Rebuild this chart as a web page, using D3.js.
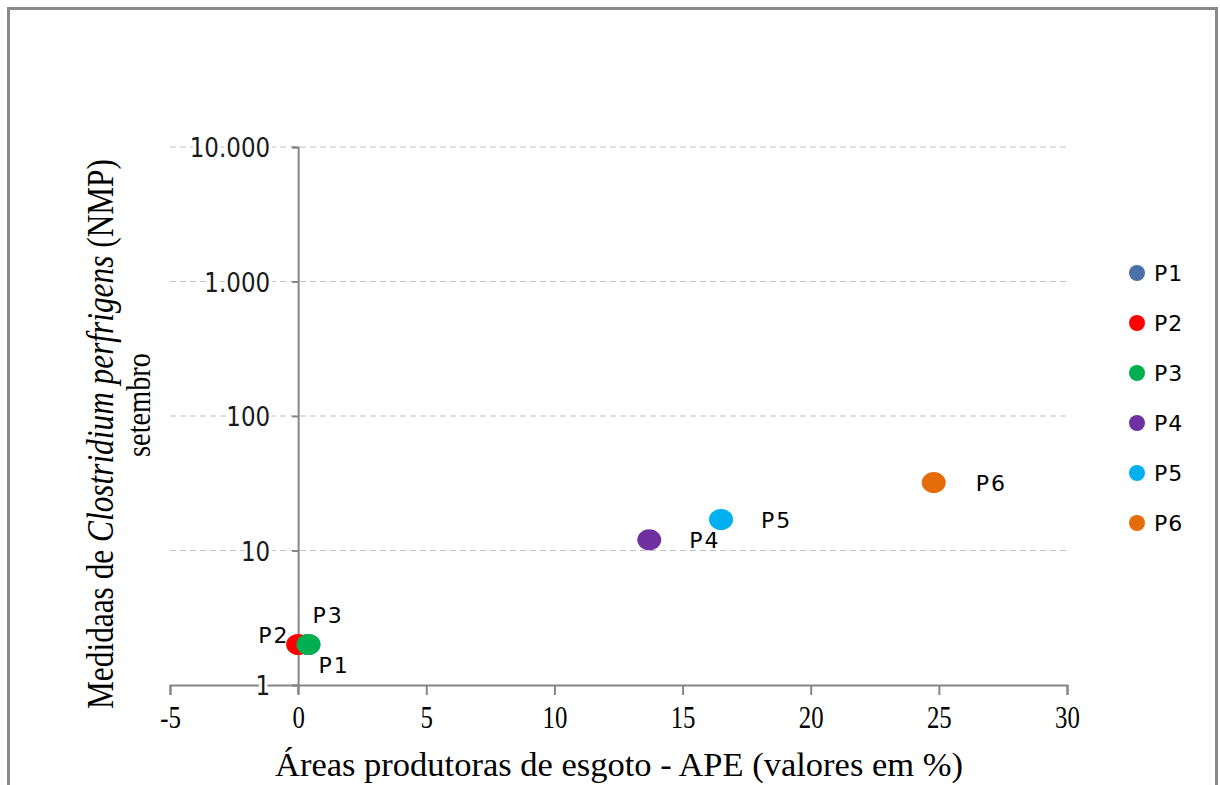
<!DOCTYPE html>
<html><head><meta charset="utf-8">
<script src="https://cdn.jsdelivr.net/npm/d3@7"></script>
<style>body{margin:0;background:#fff}svg{display:block}</style>
</head><body>
<svg id="c" width="1220" height="785"></svg>
<script>
const names = ["P1","P2","P3","P4","P5","P6"];
const xVals = [0.4, 0, 0.4, 13.7, 16.5, 24.8];
const yVals = [2, 2, 2, 12, 17, 32];
const colors = ["#4A72A8","#FF0000","#00B050","#7030A0","#00B0F0","#E46C0A"];
const xTicks = [-5,0,5,10,15,20,25,30];
const yTicks = [1,10,100,1000,10000];
const yTickLabels = ["1","10","100","1.000","10.000"];
// label offsets (dx, dy) relative to point centre
const labelPos = [[10,28],[-40,-2],[4,-22],[40,8],[40,8],[42,8]];

const svg = d3.select("#c");
svg.append("rect").attr("x",8.5).attr("y",8.5).attr("width",1208).attr("height",800)
  .attr("fill","#fff").attr("stroke","#8a8a8a").attr("stroke-width",3);

const x = d3.scaleLinear().domain([-5,30]).range([170,1067]);
const y = d3.scaleLog().domain([1,10000]).range([685,147]);

// gridlines
svg.append("g").selectAll("line").data(yTicks.filter(d=>d>1)).join("line")
  .attr("x1",x(-5)).attr("x2",x(30)).attr("y1",d=>y(d)).attr("y2",d=>y(d))
  .attr("stroke","#BFBFBF").attr("stroke-width",1).attr("stroke-dasharray","6,4");

// x axis at y=1
const xAxis = svg.append("g").attr("transform",`translate(0,${y(1)})`)
  .call(d3.axisBottom(x).tickValues(xTicks).tickSize(10).tickFormat(d=>d));
xAxis.select(".domain").attr("stroke","#868686").attr("stroke-width",2);
xAxis.selectAll(".tick line").attr("stroke","#868686").attr("stroke-width",2);
xAxis.selectAll(".tick text").attr("font-family","Liberation Serif").attr("font-size",31)
  .attr("fill","#000").attr("y",0).attr("dy","1.38em").attr("transform","scale(0.8,1)");

// y axis at x=0
const yAxis = svg.append("g").attr("transform",`translate(${x(0)},0)`)
  .call(d3.axisLeft(y).tickValues(yTicks).tickSize(6).tickFormat((d,i)=>yTickLabels[i]));
yAxis.select(".domain").attr("stroke","#868686").attr("stroke-width",2);
yAxis.selectAll(".tick line").attr("stroke","#868686").attr("stroke-width",2);
yAxis.selectAll(".tick text").attr("font-family","DejaVu Sans").attr("font-size",23)
  .attr("fill","#1a1a1a").attr("x",-28).attr("dy","0.36em").attr("transform","scale(1,1.15)")
  .attr("stroke","#fff").attr("stroke-width",6).attr("paint-order","stroke");
// extend y axis below x axis
svg.append("line").attr("x1",x(0)).attr("x2",x(0)).attr("y1",y(1)).attr("y2",y(1)+9)
  .attr("stroke","#868686").attr("stroke-width",2);

// points
const pts = names.map((n,i)=>({n, x:xVals[i], y:yVals[i], c:colors[i], l:labelPos[i]}));
svg.append("g").selectAll("ellipse").data(pts).join("ellipse")
  .attr("cx",d=>x(d.x)).attr("cy",d=>y(d.y)).attr("rx",12).attr("ry",10.5).attr("fill",d=>d.c);
svg.append("g").selectAll("text").data(pts).join("text")
  .attr("x",d=>x(d.x)+d.l[0]).attr("y",d=>y(d.y)+d.l[1])
  .attr("font-family","DejaVu Sans").attr("font-size",22).attr("fill","#000")
  .attr("letter-spacing",2)
  .text(d=>d.n);

// legend
const lg = svg.append("g").selectAll("g").data(pts).join("g")
  .attr("transform",(d,i)=>`translate(1137,${273+i*50})`);
lg.append("circle").attr("r",8).attr("fill",d=>d.c);
lg.append("text").attr("x",17).attr("dy","0.36em").attr("font-family","DejaVu Sans")
  .attr("font-size",22).attr("letter-spacing",1).attr("fill","#000").text(d=>d.n);

// x axis title
svg.append("text").attr("x",619).attr("y",776).attr("text-anchor","middle")
  .attr("font-family","Liberation Serif").attr("font-size",34).attr("fill","#000")
  .attr("textLength",688).attr("lengthAdjust","spacingAndGlyphs")
  .text("Áreas produtoras de esgoto - APE (valores em %)");

// y axis title
const yt = svg.append("text").attr("transform","translate(113,434) rotate(-90)")
  .attr("text-anchor","middle").attr("font-family","Liberation Serif").attr("font-size",38)
  .attr("fill","#000").attr("textLength",550).attr("lengthAdjust","spacingAndGlyphs");
yt.append("tspan").text("Medidaas de ");
yt.append("tspan").attr("font-style","italic").text("Clostridium perfrigens");
yt.append("tspan").text(" (NMP)");
svg.append("text").attr("transform","translate(150,405) rotate(-90)")
  .attr("text-anchor","middle").attr("font-family","Liberation Serif").attr("font-size",33)
  .attr("fill","#000").attr("textLength",104).attr("lengthAdjust","spacingAndGlyphs")
  .text("setembro");
</script>
</body></html>
